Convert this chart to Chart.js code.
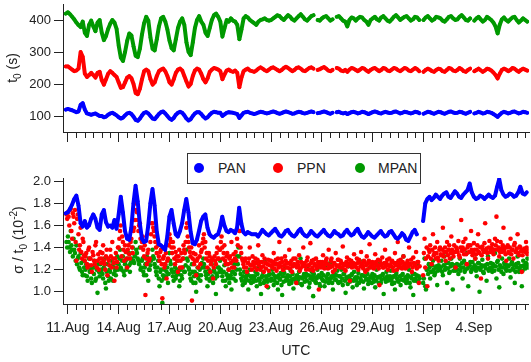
<!DOCTYPE html>
<html>
<head>
<meta charset="utf-8">
<script src="https://cdn.jsdelivr.net/npm/chart.js@4.4.0/dist/chart.umd.min.js"></script>
<style>
  body { margin: 0; width: 531px; height: 362px; background: #fff; position: relative; overflow: hidden;
         font-family: "Liberation Sans", Arial, sans-serif; color: #222; }
  canvas { position: absolute; left: 0; }
  #topChart { top: 0; }
  #bottomChart { top: 140px; }
  .ytitle { position: absolute; transform: translate(-50%, -50%) rotate(-90deg); white-space: nowrap; font-size: 14px; line-height: 16px; }
  .ytitle sub, .ytitle sup { font-size: 10px; line-height: 0; }
  #legend { position: absolute; left: 187px; top: 153px; width: 232px; height: 29px; border: 1px solid #333; background: #fff; }
  .lg-dot { position: absolute; width: 10px; height: 10px; border-radius: 50%; top: 9px; }
  .lg-txt { position: absolute; top: 6px; font-size: 14px; line-height: 17px; }
</style>
</head>
<body>
<canvas id="topChart" width="531" height="145"></canvas>
<canvas id="bottomChart" width="531" height="222"></canvas>
<div class="ytitle" style="left:12px; top:68px;">t<sub>0</sub> (s)</div>
<div class="ytitle" style="left:18px; top:240px;">σ / t<sub>0</sub> (10<sup>-2</sup>)</div>
<div id="legend"></div>
<script>
// series names / colours
const names = ["PAN", "PPN", "MPAN"];
const colors = ["#0000ff", "#ff0000", "#009900"];

// x axis: day of August (32 = 1 Sep)
const xTicks = [11, 14, 17, 20, 23, 26, 29, 32, 35];
const xTickLabels = ["11.Aug", "14.Aug", "17.Aug", "20.Aug", "23.Aug", "26.Aug", "29.Aug", "1.Sep", "4.Sep"];
const t0Ticks = [100, 200, 300, 400];
const sigmaTicks = [1.0, 1.2, 1.4, 1.6, 1.8, 2.0];

// t0 (s), every 3 h from 10 Aug 21:00
const t0Start = 10.875, t0Step = 0.125;
const panT0 = [120,
  122, 120, 118, 115, 112, 114, 135, 140,
  120, 108, 106, 104, 106, 108, 104, 100,
  100, 96, 98, 104, 108, 110, 106, 102,
  96, 92, 95, 102, 108, 110, 106, 98,
  88, 85, 92, 102, 110, 112, 108, 100,
  92, 90, 98, 106, 112, 114, 108, 100,
  92, 88, 94, 104, 110, 113, 110, 102,
  92, 86, 90, 100, 108, 112, 112, 106,
  98, 92, 96, 104, 110, 113, 112, 110,
  110, 100, 105, 110, 112, 111, 110, 108,
  106, 94, 102, 110, 112, 113, 110, 108,
  106, 108, 111, 113, 112, 110, 108, 110,
  112, 114, 112, 109, 107, 109, 112, 114,
  112, 110, 107, 108, 111, 113, 112, 109,
  108, 110, 112, 114, 112, null, 109, 110,
  112, 114, 112, 109, 107, 110, null, 112,
  113, 110, 108, 110, 106, 109, 112, 113,
  111, 108, 110, 113, 112, 109, 106, 109,
  112, 114, 112, 109, 108, 111, 113, 111,
  109, 110, 113, 114, 111, 108, 110, 113,
  112, 110, 108, 110, 113, 112, 109, null,
  107, 110, 113, 112, 109, 107, 110, 113,
  112, 109, 107, 110, 113, 114, 111, 109,
  110, 113, 112, 109, 107, 110, 113, null,
  108, 110, 113, 111, 108, 109, 113, 112,
  110, 106, 102, 97, 104, 110, 113, 111,
  108, 110, 113, 114, 111, 108, 110, 113,
  112, 110];
const ppnT0 = [255,
  255, 250, 245, 240, 242, 248, 300, 285,
  232, 222, 228, 235, 228, 220, 235, 238,
  212, 198, 215, 232, 240, 235, 228, 222,
  205, 188, 190, 205, 220, 225, 218, 200,
  172, 168, 185, 215, 240, 245, 240, 215,
  198, 205, 225, 240, 245, 248, 240, 225,
  205, 198, 215, 235, 245, 248, 242, 225,
  208, 192, 200, 225, 242, 248, 245, 232,
  215, 205, 218, 238, 245, 250, 248, 245,
  240, 215, 230, 242, 245, 240, 238, 242,
  235, 190, 220, 240, 245, 248, 242, 240,
  238, 242, 248, 252, 248, 243, 240, 245,
  250, 252, 248, 244, 240, 244, 250, 254,
  250, 245, 240, 244, 250, 252, 248, 242,
  240, 245, 250, 252, 248, null, 244, 246,
  250, 253, 248, 242, 240, 244, null, 250,
  248, 242, 240, 244, 238, 245, 250, 248,
  244, 240, 245, 250, 248, 242, 238, 244,
  248, 250, 245, 240, 244, 250, 248, 242,
  240, 245, 250, 248, 243, 240, 245, 250,
  248, 242, 240, 245, 250, 246, 240, null,
  238, 244, 248, 245, 240, 238, 244, 248,
  246, 240, 238, 244, 250, 248, 242, 240,
  244, 250, 246, 240, 238, 244, 248, null,
  240, 244, 248, 243, 238, 242, 248, 246,
  242, 236, 228, 217, 232, 244, 248, 245,
  240, 244, 250, 248, 242, 238, 244, 248,
  245, 242];
const mpanT0 = [420,
  424, 418, 410, 402, 392, 384, 378, 395,
  360, 350, 385, 398, 380, 365, 392, 400,
  360, 337, 350, 372, 388, 400, 392, 372,
  320, 282, 272, 300, 335, 358, 352, 318,
  288, 284, 310, 355, 390, 410, 398, 345,
  310, 305, 340, 380, 405, 410, 395, 370,
  335, 312, 305, 340, 375, 395, 405, 385,
  330, 300, 290, 330, 375, 400, 412, 395,
  385, 360, 350, 375, 400, 415, 420, 410,
  395, 348, 375, 400, 395, 405, 398, 395,
  385, 340, 370, 405, 412, 408, 400, 395,
  390, 385, 395, 400, 402, 405, 400, 398,
  400, 405, 410, 415, 412, 405, 400, 408,
  415, 410, 402, 398, 405, 412, 418, 410,
  402, 398, 405, 412, 415, null, 400, 398,
  405, 410, 412, 405, 398, 402, null, 410,
  412, 405, 398, 395, 380, 400, 408, 405,
  398, 405, 410, 408, 400, 395, 385, 400,
  405, 410, 402, 398, 408, 412, 405, 398,
  395, 402, 410, 415, 408, 400, 405, 410,
  412, 405, 398, 402, 410, 408, 400, null,
  400, 408, 412, 405, 398, 402, 410, 408,
  405, 398, 395, 402, 410, 412, 405, 400,
  402, 410, 415, 408, 400, 398, 405, null,
  398, 405, 410, 402, 395, 400, 410, 405,
  400, 392, 380, 358, 385, 402, 408, 400,
  395, 402, 408, 410, 400, 392, 398, 405,
  400, 395];

// sigma / t0 (10^-2); PAN every 3 h from 10 Aug 21:00
const panSigma = [1.71,
  1.72, 1.75, 1.79, 1.84, 1.87, 1.78, 1.62, 1.59,
  1.64, 1.58, 1.60, 1.66, 1.70, 1.66, 1.58, 1.56,
  1.70, 1.74, 1.63, 1.59, 1.60, 1.58, 1.65, 1.57,
  1.70, 1.86, 1.72, 1.55, 1.48, 1.47, 1.58, 1.80,
  1.96, 1.82, 1.62, 1.48, 1.45, 1.46, 1.60, 1.80,
  1.93, 1.78, 1.55, 1.43, 1.42, 1.40, 1.38, 1.50,
  1.68, 1.74, 1.62, 1.52, 1.50, 1.55, 1.62, 1.74,
  1.84, 1.72, 1.55, 1.44, 1.43, 1.47, 1.55, 1.64,
  1.68, 1.70, 1.58, 1.52, 1.50, 1.49, 1.51, 1.52,
  1.58, 1.68, 1.60, 1.55, 1.54, 1.56, 1.55, 1.53,
  1.58, 1.76, 1.62, 1.54, 1.52, 1.54, 1.53, 1.52,
  1.52, 1.52, 1.50, 1.53, 1.56, 1.54, 1.52, 1.51,
  1.53, 1.55, 1.57, 1.54, 1.51, 1.50, 1.52, 1.55,
  1.56, 1.53, 1.51, 1.50, 1.52, 1.55, 1.57, 1.53,
  1.51, 1.50, 1.52, 1.55, 1.53, 1.51, 1.50, 1.52,
  1.54, 1.56, 1.53, 1.51, 1.50, 1.52, 1.55, 1.53,
  1.52, 1.50, 1.51, 1.54, 1.56, 1.53, 1.51, 1.52,
  1.55, 1.57, 1.53, 1.50, 1.49, 1.51, 1.54, 1.52,
  1.50, 1.49, 1.51, 1.53, 1.55, 1.52, 1.50, 1.51,
  1.54, 1.55, 1.52, 1.49, 1.48, 1.50, 1.53, 1.51,
  1.47, 1.46, 1.50, 1.54, 1.56, 1.52, null, null,
  1.64, 1.80, 1.84, 1.86, 1.83, 1.85, 1.88, 1.86,
  1.84, 1.87, 1.89, 1.90, 1.86, 1.85, 1.88, 1.91,
  1.89, 1.86, 1.85, 1.88, 1.90, 1.92, 1.98, 1.90,
  1.86, 1.84, 1.85, 1.87, 1.86, 1.84, 1.86, 1.88,
  1.86, 1.85, 1.87, 1.95, 2.02, 1.92, 1.88, 1.86,
  1.87, 1.89, 1.88, 1.86, 1.87, 1.90, 1.95, 1.89,
  1.88, 1.90];

// PPN and MPAN every 2 h: run A from 10 Aug 22:00, run B from 10 Aug 23:00
const cloudStartA = 10 + 22 / 24, cloudStartB = 10 + 23 / 24, cloudStep = 1 / 12;
const ppnSigmaA = [1.70,
  1.72, 1.60, 1.75, 1.48, 1.68, 1.74, 1.28, 1.70, 1.38, 1.58, 1.30, 1.45,
  1.28, 1.35, 1.22, 1.40, 1.30, 1.18, 1.33, 1.25, 1.45, 1.28, 1.20, 1.36,
  1.30, 1.42, 1.25, 1.32, 1.15, 1.28, 1.38, 1.22, 1.30, 1.10, 1.35, 1.27,
  1.40, 1.55, 1.32, 1.45, 1.28, 1.36, 1.22, 1.42, 1.30, 1.48, 1.35, 1.58,
  1.80, 1.72, 1.55, 1.62, 1.40, 1.50, 1.32, 0.97, 1.25, 1.38, 1.30, 1.52,
  1.62, 1.55, 1.45, 1.35, 1.42, 1.28, 1.38, 0.94, 1.32, 1.25, 1.12, 1.30,
  1.52, 1.45, 1.35, 1.40, 1.25, 1.32, 1.18, 1.38, 1.28, 1.22, 1.42, 1.35,
  1.58, 1.50, 1.40, 1.32, 0.92, 1.35, 1.28, 1.15, 1.30, 1.42, 1.25, 1.38,
  1.48, 1.40, 1.30, 1.22, 1.35, 1.18, 1.28, 1.12, 1.32, 1.25, 1.40, 1.30,
  1.38, 1.50, 1.30, 1.42, 1.25, 1.35, 1.20, 1.32, 1.45, 1.28, 1.22, 1.36,
  1.48, 1.62, 1.55, 1.35, 1.28, 1.22, 1.30, 1.18, 1.26, 1.40, 1.24, 1.32,
  1.25, 1.30, 1.20, 1.42, 1.27, 1.22, 1.33, 1.18, 1.26, 1.05, 1.29, 1.24,
  1.28, 1.22, 1.35, 1.25, 1.19, 1.30, 1.45, 1.23, 1.27, 1.20, 1.32, 1.26,
  1.22, 1.38, 1.25, 1.18, 1.30, 1.24, 1.08, 1.27, 1.33, 1.21, 1.26, 1.40,
  1.26, 1.20, 1.31, 1.24, 1.44, 1.28, 1.19, 1.25, 1.30, 1.23, 1.02, 1.27,
  1.24, 1.33, 1.21, 1.28, 1.25, 1.38, 1.22, 1.30, 1.18, 1.26, 1.35, 1.23,
  1.29, 1.22, 1.26, 1.41, 1.24, 1.19, 1.31, 1.25, 1.10, 1.28, 1.23, 1.34,
  1.25, 1.30, 1.20, 1.27, 1.36, 1.23, 1.28, 1.18, 1.32, 1.26, 1.43, 1.22,
  1.27, 1.21, 1.34, 1.25, 1.29, 1.06, 1.24, 1.31, 1.22, 1.38, 1.26, 1.20,
  1.30, 1.24, 1.28, 1.19, 1.35, 1.26, 1.45, 1.23, 1.29, 1.21, 1.32, 1.25,
  1.22, 1.28, 1.40, 1.25, 1.18, 1.31, 1.24, 1.36, 1.27, 1.08, null, null,
  1.15, 1.48, 1.30, 1.05, 1.38, 1.42, 1.25, 1.52, 1.35, 1.30, 1.45, 1.28,
  1.40, 1.33, 1.58, 1.36, 1.28, 1.45, 1.38, 1.30, 1.50, 1.35, 1.42, 1.22,
  1.38, 1.46, 1.31, 1.65, 1.40, 1.34, 1.48, 1.25, 1.42, 1.36, 1.55, 1.33,
  1.44, 1.30, 1.38, 1.52, 1.35, 1.12, 1.41, 1.36, 1.62, 1.39, 1.30, 1.46,
  1.37, 1.43, 1.34, 1.48, 1.68, 1.38, 1.32, 1.45, 1.36, 1.58, 1.40, 1.28,
  1.42, 1.35, 1.48, 1.38, 1.30, 1.44, 1.36, 1.52, 1.33, 1.40, 1.18, 1.37,
  1.39, 1.45, 1.34];
const ppnSigmaB = [1.66,
  1.68, 1.74, 1.55, 1.71, 1.62, 1.45, 1.66, 1.52, 1.42, 1.36, 1.48, 1.33,
  1.32, 1.25, 1.38, 1.30, 1.24, 1.36, 1.28, 1.42, 1.22, 1.34, 1.30, 1.26,
  1.35, 1.28, 1.20, 1.38, 1.30, 1.24, 1.32, 1.45, 1.26, 1.30, 1.22, 1.40,
  1.48, 1.60, 1.50, 1.38, 1.42, 1.30, 1.38, 1.34, 1.45, 1.40, 1.55, 1.65,
  1.74, 1.65, 1.60, 1.48, 1.45, 1.38, 1.42, 1.30, 1.35, 1.28, 1.45, 1.62,
  1.58, 1.50, 1.40, 1.45, 1.32, 1.36, 1.25, 1.30, 1.22, 1.35, 1.28, 1.42,
  1.48, 1.40, 1.45, 1.30, 1.36, 1.28, 1.32, 1.22, 1.35, 1.30, 1.38, 1.45,
  1.62, 1.45, 1.36, 1.40, 1.30, 1.25, 1.34, 1.28, 1.22, 1.32, 1.36, 1.44,
  1.52, 1.45, 1.35, 1.28, 1.32, 1.25, 1.30, 1.22, 1.28, 1.35, 1.30, 1.38,
  1.45, 1.40, 1.35, 1.28, 1.32, 1.25, 1.30, 1.26, 1.22, 1.34, 1.30, 1.28,
  1.42, 1.55, 1.40, 1.30, 1.25, 1.28, 1.22, 1.26, 1.30, 1.24, 1.20, 1.27,
  1.22, 1.26, 1.29, 1.24, 1.20, 1.27, 1.23, 1.30, 1.21, 1.25, 1.19, 1.28,
  1.24, 1.27, 1.21, 1.29, 1.25, 1.22, 1.26, 1.30, 1.20, 1.24, 1.28, 1.22,
  1.26, 1.21, 1.28, 1.23, 1.25, 1.30, 1.22, 1.24, 1.19, 1.27, 1.23, 1.25,
  1.23, 1.28, 1.24, 1.20, 1.26, 1.22, 1.29, 1.24, 1.21, 1.27, 1.25, 1.22,
  1.27, 1.22, 1.25, 1.30, 1.21, 1.24, 1.28, 1.23, 1.26, 1.20, 1.24, 1.29,
  1.24, 1.28, 1.22, 1.25, 1.20, 1.27, 1.23, 1.29, 1.25, 1.22, 1.26, 1.24,
  1.22, 1.26, 1.29, 1.23, 1.25, 1.21, 1.27, 1.24, 1.20, 1.28, 1.23, 1.26,
  1.25, 1.22, 1.27, 1.24, 1.21, 1.28, 1.25, 1.22, 1.26, 1.23, 1.29, 1.24,
  1.23, 1.27, 1.22, 1.26, 1.24, 1.20, 1.28, 1.25, 1.22, 1.27, 1.24, 1.21,
  1.26, 1.23, 1.25, 1.29, 1.22, 1.26, 1.24, 1.21, 1.27, 1.23, null, null,
  1.35, 1.22, 1.40, 1.32, 1.36, 1.30, 1.38, 1.33, 1.40, 1.35, 1.31, 1.38,
  1.34, 1.38, 1.32, 1.40, 1.36, 1.33, 1.42, 1.35, 1.38, 1.32, 1.36, 1.40,
  1.36, 1.33, 1.40, 1.37, 1.45, 1.38, 1.34, 1.40, 1.36, 1.42, 1.38, 1.35,
  1.38, 1.34, 1.42, 1.36, 1.40, 1.33, 1.38, 1.44, 1.37, 1.35, 1.40, 1.36,
  1.40, 1.36, 1.38, 1.42, 1.46, 1.40, 1.36, 1.39, 1.42, 1.37, 1.34, 1.40,
  1.36, 1.40, 1.34, 1.38, 1.42, 1.36, 1.39, 1.35, 1.41, 1.37, 1.33, 1.38,
  1.36, 1.40, 1.37];
const mpanSigmaA = [1.45,
  1.50, 1.40, 1.55, 1.38, 1.48, 1.35, 1.42, 1.30, 1.22, 1.35, 1.18, 1.28,
  1.15, 1.25, 1.10, 1.30, 1.20, 1.08, 1.22, 1.28, 1.12, 0.99, 1.18, 1.25,
  1.20, 1.12, 1.30, 1.03, 1.25, 1.10, 1.18, 1.28, 1.10, 1.22, 1.15, 1.32,
  1.25, 1.38, 1.20, 1.32, 1.15, 1.28, 1.22, 1.35, 1.18, 1.30, 1.40, 1.26,
  1.45, 1.35, 1.28, 1.40, 1.22, 1.30, 1.15, 1.25, 1.32, 1.10, 1.20, 1.28,
  1.38, 1.30, 1.22, 1.15, 1.28, 1.05, 1.20, 0.90, 1.12, 1.25, 1.18, 1.08,
  1.35, 1.25, 1.18, 1.10, 1.22, 1.15, 1.28, 1.05, 1.20, 1.12, 1.30, 1.18,
  1.38, 1.28, 1.20, 1.12, 1.25, 1.08, 1.18, 1.00, 1.22, 1.15, 1.10, 1.26,
  1.30, 1.22, 1.15, 1.05, 1.20, 1.12, 1.25, 1.08, 1.18, 0.98, 1.14, 1.22,
  1.28, 1.18, 1.10, 1.24, 1.05, 1.15, 1.20, 1.12, 1.02, 1.18, 1.25, 1.10,
  1.32, 1.40, 1.20, 1.12, 1.06, 1.18, 1.10, 1.15, 1.02, 1.20, 1.08, 1.14,
  1.12, 1.18, 1.05, 1.22, 1.10, 0.98, 1.15, 1.08, 1.28, 1.12, 1.04, 1.16,
  1.10, 1.20, 1.06, 1.14, 1.25, 1.02, 1.12, 1.17, 0.97, 1.09, 1.22, 1.13,
  1.15, 1.07, 1.19, 1.11, 1.03, 1.24, 1.13, 1.08, 1.18, 1.30, 1.06, 1.14,
  1.09, 1.16, 1.21, 1.04, 1.12, 1.18, 0.96, 1.13, 1.08, 1.20, 1.15, 1.05,
  1.17, 1.10, 1.05, 1.22, 1.12, 1.08, 1.26, 1.14, 1.02, 1.16, 1.11, 1.19,
  1.08, 1.14, 1.20, 1.06, 1.16, 0.99, 1.12, 1.23, 1.09, 1.15, 1.04, 1.18,
  1.13, 1.06, 1.17, 1.28, 1.10, 1.15, 1.03, 1.19, 1.12, 1.07, 1.22, 1.14,
  1.16, 1.09, 1.04, 1.20, 1.13, 1.25, 1.08, 1.15, 0.98, 1.12, 1.18, 1.10,
  1.12, 1.19, 1.07, 1.14, 1.02, 1.17, 1.10, 1.22, 1.06, 1.15, 1.32, 1.11,
  1.08, 1.15, 1.20, 1.04, 1.12, 0.97, 1.16, 1.10, 1.25, 1.14, null, null,
  1.08, 1.30, 1.02, 1.20, 1.25, 1.12, 1.18, 1.28, 1.15, 1.22, 1.06, 1.24,
  1.20, 1.28, 1.15, 1.32, 1.22, 1.08, 1.26, 1.18, 1.30, 1.02, 1.24, 1.19,
  1.25, 1.16, 1.30, 1.22, 1.12, 1.28, 1.20, 1.35, 1.05, 1.24, 1.18, 1.27,
  1.21, 1.30, 1.14, 1.26, 1.00, 1.22, 1.29, 1.17, 1.24, 1.10, 1.32, 1.20,
  1.26, 1.18, 1.23, 1.35, 1.12, 1.28, 1.04, 1.22, 1.30, 1.16, 1.25, 1.19,
  1.24, 1.30, 1.13, 1.27, 1.20, 1.08, 1.25, 1.32, 1.18, 1.23, 1.05, 1.28,
  1.22, 1.26, 1.30];
const mpanSigmaB = [1.40,
  1.45, 1.36, 1.42, 1.32, 1.38, 1.28, 1.25, 1.32, 1.20, 1.26, 1.15, 1.22,
  1.20, 1.14, 1.24, 1.18, 1.12, 1.22, 1.16, 1.10, 1.20, 1.25, 1.14, 1.18,
  1.16, 1.22, 1.08, 1.18, 1.14, 1.20, 1.12, 1.24, 1.16, 1.19, 1.26, 1.20,
  1.30, 1.22, 1.28, 1.18, 1.25, 1.20, 1.30, 1.24, 1.26, 1.35, 1.28, 1.32,
  1.38, 1.30, 1.25, 1.20, 1.28, 1.18, 1.22, 1.15, 1.26, 1.20, 1.24, 1.30,
  1.32, 1.25, 1.18, 1.22, 1.12, 1.18, 1.10, 1.15, 1.20, 1.14, 1.22, 1.16,
  1.28, 1.20, 1.14, 1.18, 1.12, 1.20, 1.16, 1.10, 1.15, 1.22, 1.18, 1.24,
  1.30, 1.22, 1.16, 1.10, 1.18, 1.14, 1.08, 1.16, 1.12, 1.20, 1.15, 1.22,
  1.25, 1.18, 1.12, 1.16, 1.10, 1.18, 1.14, 1.20, 1.12, 1.16, 1.22, 1.18,
  1.20, 1.14, 1.18, 1.10, 1.16, 1.12, 1.08, 1.15, 1.18, 1.12, 1.16, 1.20,
  1.25, 1.32, 1.16, 1.10, 1.14, 1.08, 1.12, 1.16, 1.10, 1.14, 1.12, 1.09,
  1.14, 1.10, 1.16, 1.12, 1.07, 1.13, 1.18, 1.10, 1.14, 1.09, 1.15, 1.11,
  1.12, 1.16, 1.10, 1.13, 1.08, 1.15, 1.11, 1.06, 1.14, 1.17, 1.10, 1.12,
  1.10, 1.14, 1.08, 1.16, 1.12, 1.09, 1.15, 1.11, 1.13, 1.07, 1.12, 1.16,
  1.13, 1.10, 1.15, 1.08, 1.14, 1.11, 1.16, 1.09, 1.12, 1.14, 1.07, 1.13,
  1.11, 1.15, 1.09, 1.13, 1.16, 1.10, 1.12, 1.08, 1.14, 1.11, 1.15, 1.09,
  1.14, 1.09, 1.12, 1.16, 1.10, 1.13, 1.07, 1.14, 1.11, 1.16, 1.10, 1.12,
  1.10, 1.13, 1.08, 1.12, 1.15, 1.09, 1.14, 1.11, 1.16, 1.10, 1.13, 1.08,
  1.12, 1.15, 1.10, 1.13, 1.08, 1.14, 1.11, 1.16, 1.12, 1.09, 1.14, 1.11,
  1.14, 1.10, 1.13, 1.08, 1.15, 1.12, 1.09, 1.14, 1.11, 1.16, 1.10, 1.13,
  1.11, 1.14, 1.08, 1.13, 1.16, 1.10, 1.12, 1.15, 1.09, 1.12, null, null,
  1.12, 1.05, 1.20, 1.16, 1.22, 1.18, 1.24, 1.20, 1.17, 1.23, 1.19, 1.21,
  1.22, 1.18, 1.24, 1.20, 1.26, 1.21, 1.17, 1.23, 1.25, 1.19, 1.22, 1.24,
  1.20, 1.24, 1.19, 1.26, 1.22, 1.18, 1.25, 1.21, 1.23, 1.27, 1.20, 1.22,
  1.24, 1.19, 1.22, 1.26, 1.20, 1.24, 1.18, 1.23, 1.21, 1.25, 1.19, 1.22,
  1.21, 1.25, 1.19, 1.23, 1.27, 1.20, 1.24, 1.18, 1.22, 1.26, 1.21, 1.23,
  1.23, 1.19, 1.25, 1.21, 1.24, 1.18, 1.22, 1.26, 1.20, 1.23, 1.19, 1.24,
  1.21, 1.25, 1.22];

const axisColor = "#222";
const xMin = 10.71, xMax = 38.24;

function toPoints(vals, start, step) {
  return vals.map((v, i) => ({ x: start + i * step, y: v }));
}

function lineSet(label, vals, start, step, color) {
  return {
    label, data: toPoints(vals, start, step), showLine: true,
    borderColor: color, backgroundColor: color, borderWidth: 4,
    borderJoinStyle: "round", borderCapStyle: "round",
    pointRadius: 1.8, pointBorderWidth: 0, pointHoverRadius: 0
  };
}

function dotSet(label, vals, start, step, color) {
  return {
    label, data: toPoints(vals, start, step), showLine: false,
    backgroundColor: color, borderColor: color,
    pointRadius: 2.3, pointBorderWidth: 0, pointHoverRadius: 0
  };
}

// half-day minor ticks on the time axis
const minorTicks = {
  id: "minorTicks",
  afterDraw(chart) {
    const sx = chart.scales.x, ctx = chart.ctx;
    ctx.save();
    ctx.strokeStyle = axisColor;
    ctx.lineWidth = 1;
    ctx.beginPath();
    for (let v = 11; v <= sx.max; v += 0.5) {
      if (xTicks.includes(v)) continue;
      const px = Math.round(sx.getPixelForValue(v)) + 0.5;
      ctx.moveTo(px, sx.top);
      ctx.lineTo(px, sx.top + 6);
    }
    ctx.stroke();
    ctx.restore();
  }
};

function makeChart(id, datasets, yMin, yMax, yTicks, yDigits, padTop, xHeight, showLabels) {
  return new Chart(document.getElementById(id), {
    type: "scatter",
    data: { datasets },
    plugins: [minorTicks],
    options: {
      responsive: false,
      animation: false,
      events: [],
      layout: { padding: { top: padTop, left: 0, right: 0, bottom: 0 } },
      plugins: { legend: { display: false }, tooltip: { enabled: false } },
      scales: {
        x: {
          type: "linear", min: xMin, max: xMax,
          afterBuildTicks: s => { s.ticks = xTicks.map(v => ({ value: v })); },
          afterFit: s => { s.height = xHeight; s.paddingLeft = 0; s.paddingRight = 0; },
          grid: { drawOnChartArea: false, drawTicks: true, tickLength: 10, tickColor: axisColor },
          border: { display: true, color: axisColor, width: 1 },
          ticks: {
            display: showLabels, autoSkip: false, maxRotation: 0, padding: 6, color: axisColor,
            font: { size: 14 }, callback: (v, i) => xTickLabels[i]
          },
          title: { display: showLabels, text: "UTC", color: axisColor, font: { size: 14 }, padding: { top: 0, bottom: 2 } }
        },
        y: {
          type: "linear", min: yMin, max: yMax,
          afterBuildTicks: s => { s.ticks = yTicks.map(v => ({ value: v })); },
          afterFit: s => { s.width = 63; s.paddingTop = 0; s.paddingBottom = 0; },
          grid: { drawOnChartArea: false, drawTicks: true, tickLength: 9, tickColor: axisColor },
          border: { display: true, color: axisColor, width: 1 },
          ticks: { padding: 3, color: axisColor, font: { size: 13 }, callback: v => v.toFixed(yDigits) }
        }
      }
    }
  });
}

Chart.defaults.font.family = '"Liberation Sans", Arial, sans-serif';

makeChart("topChart", [
  lineSet(names[0], panT0, t0Start, t0Step, colors[0]),
  lineSet(names[1], ppnT0, t0Start, t0Step, colors[1]),
  lineSet(names[2], mpanT0, t0Start, t0Step, colors[2])
], 50, 450, t0Ticks, 0, 4, 13, false);

makeChart("bottomChart", [
  lineSet(names[0], panSigma, t0Start, t0Step, colors[0]),
  dotSet(names[1], ppnSigmaA, cloudStartA, cloudStep, colors[1]),
  dotSet(names[1], ppnSigmaB, cloudStartB, cloudStep, colors[1]),
  dotSet(names[2], mpanSigmaA, cloudStartA, cloudStep, colors[2]),
  dotSet(names[2], mpanSigmaB, cloudStartB, cloudStep, colors[2])
], 0.889, 2.03, sigmaTicks, 1, 38, 58, true);

// legend box
const legend = document.getElementById("legend");
const dotLeft = [6, 85, 167], txtLeft = [30, 109, 190];
names.forEach((n, i) => {
  const d = document.createElement("div");
  d.className = "lg-dot";
  d.style.left = dotLeft[i] + "px";
  d.style.background = colors[i];
  legend.appendChild(d);
  const t = document.createElement("div");
  t.className = "lg-txt";
  t.style.left = txtLeft[i] + "px";
  t.textContent = n;
  legend.appendChild(t);
});
</script>
</body>
</html>
